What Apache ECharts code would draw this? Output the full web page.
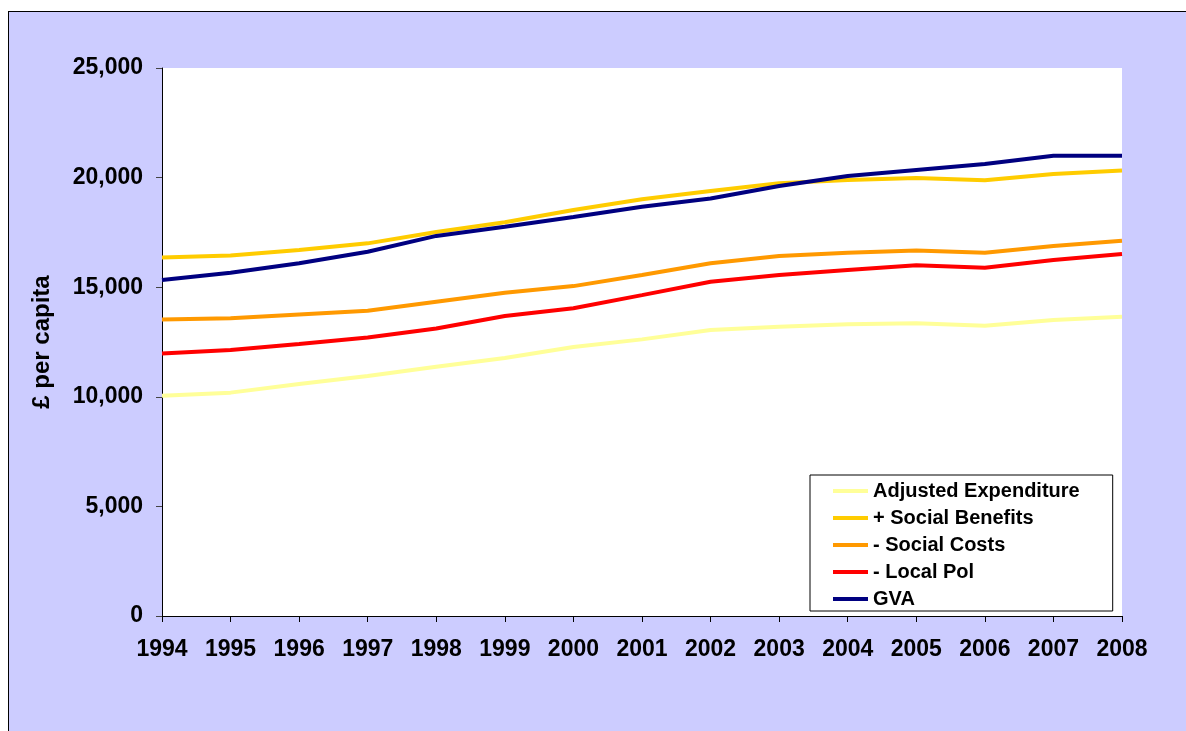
<!DOCTYPE html>
<html>
<head>
<meta charset="UTF-8">
<script src="https://cdn.jsdelivr.net/npm/echarts@6/dist/echarts.min.js"></script>
<title>£ per capita</title>
<style>
  html, body { margin: 0; padding: 0; background: #fff; overflow: hidden; }
  #frame {
    position: absolute; left: 8px; top: 11px;
    width: 1190px; height: 730px;
    border-left: 1px solid #000; border-top: 1px solid #000;
    background: #ccccff;
  }
  #main { width: 1190px; height: 730px; }
</style>
</head>
<body>
<div id="frame"><div id="main"></div></div>
<script>
var years = ['1994','1995','1996','1997','1998','1999','2000','2001','2002','2003','2004','2005','2006','2007','2008'];
var yTicks = [0, 5000, 10000, 15000, 20000, 25000];

var adjustedExpenditure = [10050, 10190, 10580, 10950, 11370, 11770, 12270, 12620, 13050, 13200, 13310, 13350, 13240, 13500, 13650];
var socialBenefits      = [16350, 16450, 16700, 17000, 17520, 17960, 18520, 19010, 19390, 19740, 19890, 19980, 19880, 20160, 20320];
var socialCosts         = [13530, 13580, 13760, 13930, 14340, 14750, 15050, 15560, 16090, 16420, 16570, 16670, 16570, 16880, 17120];
var localPol            = [11980, 12130, 12410, 12710, 13120, 13690, 14040, 14640, 15250, 15560, 15780, 16000, 15890, 16240, 16510];
var gva                 = [15330, 15660, 16090, 16620, 17340, 17760, 18200, 18670, 19050, 19620, 20070, 20350, 20620, 21000, 21000];

var names  = ['Adjusted Expenditure', '+ Social Benefits', '- Social Costs', '- Local Pol', 'GVA'];
var colors = ['#ffff99', '#ffcc00', '#ff9900', '#ff0000', '#000080'];
var values = [adjustedExpenditure, socialBenefits, socialCosts, localPol, gva];

var font = '"Liberation Sans", Arial, sans-serif';

var series = [];
for (var i = 0; i < names.length; i++) {
  series.push({
    name: names[i],
    type: 'line',
    data: values[i],
    symbol: 'none',
    lineStyle: { color: colors[i], width: 4 },
    itemStyle: { color: colors[i] },
    z: 2 + i
  });
}

var myChart = echarts.init(document.getElementById('main'));
var option = {
  animation: false,
  backgroundColor: '#ccccff',
  textStyle: { fontFamily: font },
  grid: { left: 153, top: 56, width: 960, height: 548, show: true, backgroundColor: '#fff', borderWidth: 0 },
  legend: {
    orient: 'vertical',
    left: 801, top: 463,
    backgroundColor: '#fff',
    borderColor: '#000', borderWidth: 1,
    padding: [6, 33, 2, 23],
    itemWidth: 35, itemHeight: 4,
    itemGap: 7,
    icon: 'rect',
    textStyle: { fontFamily: font, fontSize: 20, fontWeight: 'bold', color: '#000', lineHeight: 20 },
    data: names
  },
  xAxis: {
    type: 'category',
    data: years,
    boundaryGap: false,
    axisLine: { lineStyle: { color: '#000', width: 1 } },
    axisTick: { show: true, length: 6, inside: false, lineStyle: { color: '#000' } },
    axisLabel: { margin: 22, fontFamily: font, fontSize: 23, fontWeight: 'bold', color: '#000', interval: 0 },
    splitLine: { show: false }
  },
  yAxis: {
    type: 'value',
    min: yTicks[0], max: yTicks[yTicks.length - 1], interval: 5000,
    name: '£ per capita',
    nameLocation: 'middle',
    nameGap: 108,
    nameRotate: 90,
    nameTextStyle: { fontFamily: font, fontSize: 24, fontWeight: 'bold', color: '#000' },
    axisLine: { show: true, lineStyle: { color: '#000', width: 1 } },
    axisTick: { show: true, length: 6, lineStyle: { color: '#444' } },
    axisLabel: {
      margin: 19, fontFamily: font, fontSize: 23, fontWeight: 'bold', color: '#000',
      formatter: function (v) { return v.toString().replace(/\B(?=(\d{3})+(?!\d))/g, ','); }
    },
    splitLine: { show: false }
  },
  series: series
};
myChart.setOption(option);
</script>
</body>
</html>
